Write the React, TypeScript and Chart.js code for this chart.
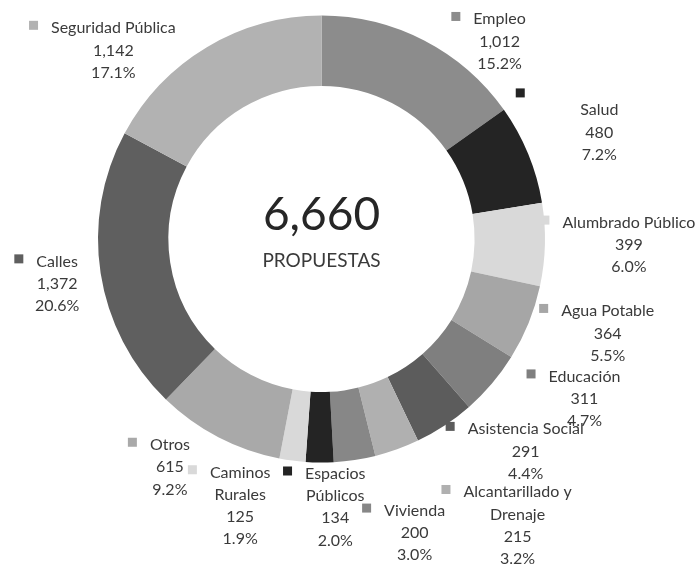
import React, { useEffect, useRef } from "react";
import { Chart, registerables } from "chart.js";

Chart.register(...registerables);

const categories: string[][] = [
  ["Empleo"],
  ["Salud"],
  ["Alumbrado Público"],
  ["Agua Potable"],
  ["Educación"],
  ["Asistencia Social"],
  ["Alcantarillado y", "Drenaje"],
  ["Vivienda"],
  ["Espacios", "Públicos"],
  ["Caminos", "Rurales"],
  ["Otros"],
  ["Calles"],
  ["Seguridad Pública"],
];

const values: number[] = [1012, 480, 399, 364, 311, 291, 215, 200, 134, 125, 615, 1372, 1142];

const centerLabel = "PROPUESTAS";

const colors: string[] = [
  "#8c8c8c",
  "#242424",
  "#d9d9d9",
  "#a6a6a6",
  "#7f7f7f",
  "#5c5c5c",
  "#b0b0b0",
  "#878787",
  "#242424",
  "#d9d9d9",
  "#a9a9a9",
  "#5f5f5f",
  "#b2b2b2",
];

// label layout nudges (px) relative to an anchor placed just outside each arc
const labelNudges: [number, number][] = [
  [57, 14],
  [34, -29],
  [44, -23],
  [42, -27],
  [62, -33],
  [59, -30],
  [107, 5],
  [54, 11],
  [16, -29],
  [-47, -28],
  [-30, -28],
  [-4, -18],
  [-73, 15],
];

const FONT = "Lato, 'Open Sans', sans-serif";
const fmt = (n: number) => n.toLocaleString("en-US");

const labelsPlugin = {
  id: "outerLabels",
  afterDraw(chart: any) {
    const ctx: CanvasRenderingContext2D = chart.ctx;
    const meta = chart.getDatasetMeta(0);
    const total = values.reduce((a, b) => a + b, 0);
    const lineH = 22.2;
    ctx.save();
    ctx.font = `16px ${FONT}`;
    ctx.textAlign = "center";
    ctx.textBaseline = "alphabetic";
    let cx0 = 0;
    meta.data.forEach((arc: any, i: number) => {
      const p = arc.getProps(["x", "y", "startAngle", "endAngle", "outerRadius"], true);
      cx0 = p.x;
      const mid = (p.startAngle + p.endAngle) / 2;
      const r = p.outerRadius + 40;
      const ax = p.x + Math.cos(mid) * r + labelNudges[i][0];
      const ay = p.y + Math.sin(mid) * r + labelNudges[i][1];
      const pct = ((values[i] / total) * 100).toFixed(1) + "%";
      const lines = [...categories[i], fmt(values[i]), pct];
      ctx.fillStyle = "#3a3a3a";
      lines.forEach((t, k) => {
        ctx.fillText(t, ax, ay + 5.5 + k * lineH);
      });
      // legend key marker
      ctx.fillStyle = colors[i];
      const base = ay + 5.5;
      if (i === 1) {
        ctx.fillRect(ax - 79 - 4.5, ay - 17 - 4.5, 9, 9);
      } else {
        const w0 = ctx.measureText(categories[i][0]).width;
        const left = ax - w0 / 2 - 13 - 9;
        ctx.fillRect(left, base - 12.5, 9, 9);
      }
    });
    // center text
    ctx.fillStyle = "#262626";
    ctx.font = `46px ${FONT}`;
    ctx.fillText(fmt(total), cx0, 230);
    ctx.fillStyle = "#3a3a3a";
    ctx.font = `19px ${FONT}`;
    ctx.fillText(centerLabel, cx0, 267);
    ctx.restore();
  },
};

export default function App() {
  const ref = useRef<HTMLCanvasElement | null>(null);
  useEffect(() => {
    if (!ref.current) return;
    const chart = new Chart(ref.current, {
      type: "doughnut",
      data: {
        labels: categories.map((c) => c.join(" ")),
        datasets: [
          {
            data: values,
            backgroundColor: colors,
            borderWidth: 0,
          },
        ],
      },
      options: {
        responsive: false,
        maintainAspectRatio: false,
        animation: false,
        cutout: "68.5%",
        layout: { padding: { left: 98, top: 15.5, right: 154, bottom: 104.5 } },
        plugins: {
          legend: { display: false },
          tooltip: { enabled: false },
          title: { display: false },
        },
      },
      plugins: [labelsPlugin],
    });
    return () => chart.destroy();
  }, []);
  return (
    <div style={{ position: "fixed", left: 0, top: 0, width: 699, height: 567, background: "#fff" }}>
      <canvas ref={ref} width={699} height={567} />
    </div>
  );
}
